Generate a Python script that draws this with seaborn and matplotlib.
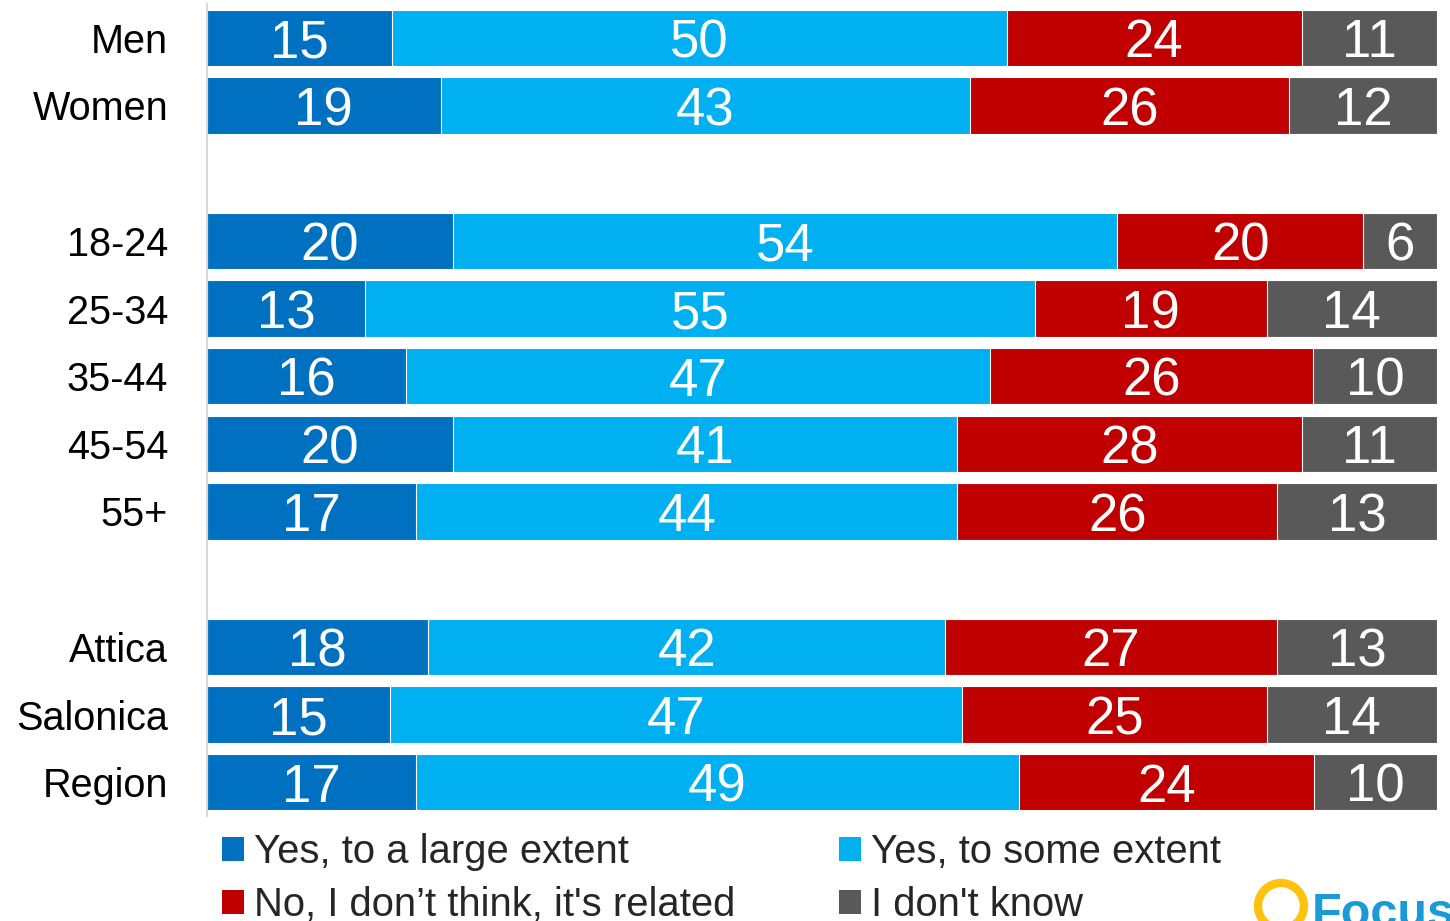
import matplotlib
matplotlib.use("Agg")
import matplotlib.pyplot as plt
import seaborn as sns
import pandas as pd
from matplotlib.patches import Patch, Ellipse

categories = ["Men", "Women", "18-24", "25-34", "35-44", "45-54", "55+",
              "Attica", "Salonica", "Region"]
slot_order = ["Men", "Women", "", "18-24", "25-34", "35-44", "45-54", "55+",
              " ", "Attica", "Salonica", "Region"]
large_extent = [15, 19, 20, 13, 16, 20, 17, 18, 15, 17]
some_extent = [50, 43, 54, 55, 47, 41, 44, 42, 47, 49]
not_related = [24, 26, 20, 19, 26, 28, 26, 27, 25, 24]
dont_know = [11, 12, 6, 14, 10, 11, 13, 13, 14, 10]

series_names = ["Yes, to a large extent", "Yes, to some extent",
                "No, I don’t think, it's related", "I don't know"]
series_vals = [large_extent, some_extent, not_related, dont_know]
colors = ["#0070C0", "#00B0F0", "#C00000", "#595959"]

sns.set_theme(style="white")
plt.rcParams["font.family"] = ["Liberation Sans", "DejaVu Sans"]

fig = plt.figure(figsize=(14.5, 9.21), dpi=100)
ax = fig.add_axes([207 / 1450, 105 / 921, 1230 / 1450, 812 / 921])

# 100% stacked: share of each row's total
totals = [sum(t) for t in zip(*series_vals)]
shares = [[100.0 * v / t for v, t in zip(vals, totals)] for vals in series_vals]
cum = []
run = [0.0] * len(categories)
for vals in shares:
    run = [r + v for r, v in zip(run, vals)]
    cum.append(list(run))

for i in reversed(range(4)):
    d = pd.DataFrame({"cat": categories, "x": cum[i]})
    sns.barplot(data=d, x="x", y="cat", order=slot_order, orient="h",
                color=colors[i], saturation=1, width=0.83,
                edgecolor="white", linewidth=0.8, ax=ax, errorbar=None)

# value labels
pos = {c: slot_order.index(c) for c in categories}
for i, vals in enumerate(series_vals):
    for c, v, s, cu in zip(categories, vals, shares[i], cum[i]):
        ax.text(cu - s / 2, pos[c], f"{v}", ha="center", va="center_baseline",
                color="white", fontsize=38)

ax.set_xlim(0, 100)
ax.set_ylim(11.5, -0.5)
ax.set_xlabel("")
ax.set_ylabel("")
ax.set_xticks([])
ax.tick_params(axis="y", length=0, pad=28, labelsize=28.5)
for lbl in ax.get_yticklabels():
    lbl.set_color("black")
for s in ["top", "right", "bottom"]:
    ax.spines[s].set_visible(False)
ax.spines["left"].set_color("#d9d9d9")
ax.spines["left"].set_linewidth(1.5)

handles = [Patch(facecolor=colors[k], edgecolor="none", label=series_names[k])
           for k in [0, 2, 1, 3]]
fig.legend(handles=handles, ncol=2, loc="upper left",
           bbox_to_anchor=(222 / 1450, 1 - 833 / 921), frameon=False,
           fontsize=28.8, handlelength=0.55, handleheight=0.55,
           handletextpad=0.25, columnspacing=2.58, labelspacing=0.38,
           borderaxespad=0, borderpad=0)

# logo
fig.patches.append(Ellipse((1281 / 1450, 1 - 906 / 921), 46 / 1450, 46 / 921,
                           transform=fig.transFigure, fill=False,
                           edgecolor="#FFC20E", linewidth=6))
fig.text(1312 / 1450, 1 - 927 / 921, "Focus", color="#1B9AD8",
         fontsize=35, fontweight="bold", ha="left", va="baseline")

fig.savefig("out.png", dpi=100)
